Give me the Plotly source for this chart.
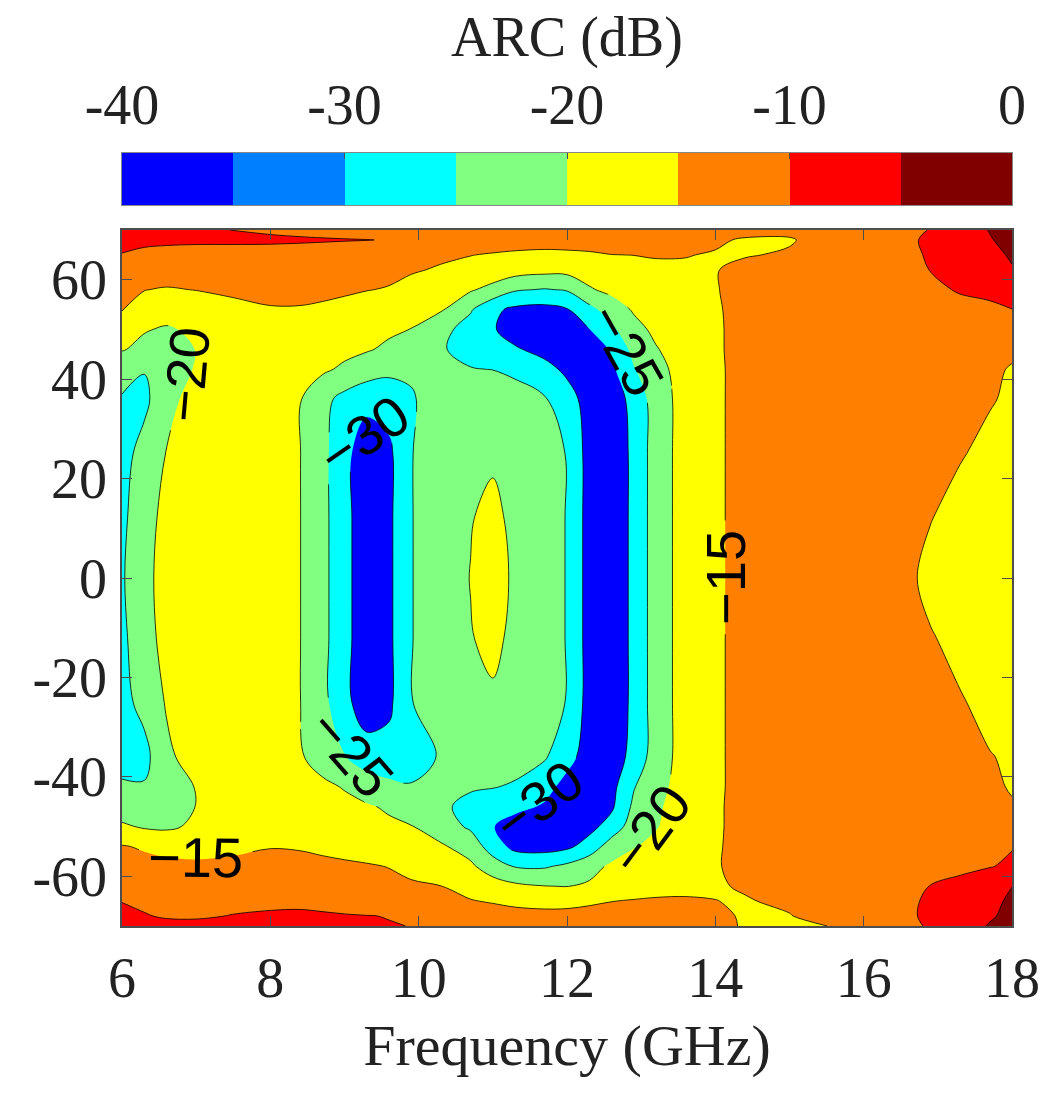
import plotly.graph_objects as go

# ---------------- data ----------------
freq_ghz = [6.0, 6.3, 6.6, 7.0, 7.5, 8.0, 8.4, 8.7, 9.0, 9.3, 9.6, 9.9, 10.3, 10.7, 11.0,
            11.3, 11.7, 12.0, 12.3, 12.6, 12.9, 13.2, 13.6, 14.0, 14.4, 15.0, 15.5, 16.0,
            16.5, 16.9, 17.3, 17.7, 18.0]
angle_deg = [-70, -68, -65, -62, -58, -54, -50, -46, -42, -36, -25, -12, 0, 12, 25, 36,
             42, 46, 50, 54, 58, 62, 65, 68, 70]

# ARC (dB), one list per angle row
arc_m70 = [-8.2, -8.8, -9.1, -9.3, -9.2, -9.1, -9.2, -9.3, -9.5, -9.7, -9.85, -10.05, -10.8, -11.6, -12.3, -12.9, -13.3, -13.5, -13.6, -13.7, -13.8, -13.9, -14.2, -14.7, -15.1, -15.5, -15.02, -13.8, -11.5, -9.5, -7.5, -4.6, -3.0]
arc_m68 = [-9.0, -9.8, -10.3, -10.3, -9.9, -9.7, -9.6, -9.7, -9.8, -9.9, -10.1, -10.8, -11.7, -12.6, -13.3, -13.8, -14.1, -14.2, -14.1, -14.0, -14.0, -14.1, -14.3, -14.6, -15.2, -15.2, -13.2, -12.3, -11.3, -9.0, -7.6, -5.6, -3.6]
arc_m65 = [-10.1, -10.6, -10.9, -11.0, -10.7, -10.5, -10.5, -10.7, -11.2, -12.0, -12.8, -13.6, -14.3, -14.8, -15.3, -15.8, -16.0, -15.8, -15.4, -15.05, -14.7, -14.5, -14.6, -14.95, -15.3, -14.2, -12.6, -12.2, -11.4, -9.2, -8.0, -6.2, -4.2]
arc_m62 = [-11.5, -11.8, -12.2, -12.3, -12.1, -11.9, -12.0, -12.4, -13.0, -13.6, -14.1, -14.5, -14.95, -16.3, -17.8, -19.0, -19.9, -20.1, -19.4, -18.3, -17.3, -16.5, -15.9, -15.4, -14.6, -13.0, -12.3, -12.0, -11.5, -9.9, -8.8, -7.0, -5.05]
arc_m58 = [-13.3, -13.6, -14.0, -14.3, -14.1, -13.8, -13.9, -14.3, -14.5, -14.7, -15.1, -16.0, -17.2, -19.2, -22.5, -25.3, -25.5, -24.0, -21.5, -19.3, -17.8, -16.8, -15.9, -15.3, -13.9, -12.5, -12.2, -12.0, -11.9, -11.6, -11.0, -10.2, -9.3]
arc_m54 = [-14.7, -15.5, -16.2, -16.3, -15.8, -15.15, -15.3, -15.6, -16.0, -16.6, -17.3, -18.1, -19.4, -22.0, -27.5, -31.5, -32.0, -31.0, -28.0, -22.5, -20.3, -18.8, -16.8, -15.4, -13.8, -12.4, -12.1, -12.0, -12.0, -12.2, -11.8, -11.0, -10.2]
arc_m50 = [-19.3, -20.5, -20.8, -19.2, -16.5, -16.2, -16.2, -16.8, -17.5, -18.3, -19.2, -19.8, -22.5, -25.8, -29.8, -32.0, -33.0, -33.0, -31.5, -28.0, -22.5, -20.3, -17.5, -15.5, -13.8, -12.4, -12.1, -12.0, -12.3, -12.8, -13.2, -13.6, -14.0]
arc_m46 = [-22.5, -23.0, -22.5, -19.9, -16.2, -16.2, -16.8, -17.8, -18.8, -19.5, -20.6, -22.3, -24.2, -26.3, -27.5, -28.8, -30.5, -33.0, -33.0, -30.8, -24.0, -20.8, -17.5, -15.5, -13.8, -12.4, -12.1, -12.1, -12.4, -12.9, -13.4, -14.0, -14.7]
arc_m42 = [-24.3, -24.6, -23.5, -19.7, -16.0, -16.5, -17.8, -19.0, -20.3, -22.3, -23.8, -24.6, -24.8, -24.5, -24.8, -25.5, -28.5, -31.5, -33.0, -31.5, -25.3, -21.5, -18.0, -15.6, -13.8, -12.5, -12.2, -12.2, -12.5, -13.0, -13.6, -14.3, -15.3]
arc_m36 = [-27.0, -26.5, -21.0, -17.8, -16.3, -17.3, -19.5, -22.0, -24.7, -27.5, -28.2, -27.5, -24.5, -23.5, -23.0, -23.2, -24.5, -28.5, -32.0, -32.5, -28.5, -22.5, -18.0, -15.6, -13.8, -12.5, -12.2, -12.3, -12.8, -13.4, -14.1, -14.9, -15.3]
arc_m25 = [-26.5, -23.5, -19.6, -16.8, -16.5, -17.5, -19.9, -23.5, -28.5, -33.0, -31.0, -25.2, -22.0, -21.0, -20.6, -21.5, -23.0, -25.2, -32.0, -33.0, -29.0, -22.5, -18.0, -15.6, -13.8, -12.5, -12.2, -12.3, -13.0, -14.0, -14.8, -15.7, -16.2]
arc_m12 = [-26.0, -22.0, -18.3, -16.5, -16.2, -17.5, -19.9, -23.5, -28.5, -33.0, -31.0, -25.2, -22.0, -20.2, -19.0, -21.0, -23.0, -25.2, -32.0, -33.0, -29.0, -22.5, -18.0, -15.6, -13.8, -12.5, -12.2, -12.5, -14.0, -14.8, -15.8, -16.3, -16.8]
arc_p00 = [-25.5, -21.5, -18.0, -16.5, -16.2, -17.5, -19.9, -23.5, -28.5, -33.0, -31.0, -25.2, -22.0, -19.9, -18.5, -20.6, -23.0, -25.2, -32.0, -33.0, -29.0, -22.5, -18.0, -15.6, -13.8, -12.5, -12.2, -12.5, -14.0, -15.8, -16.5, -16.8, -16.8]
arc_p12 = [-26.0, -22.0, -18.5, -16.5, -16.2, -17.5, -19.9, -23.5, -28.5, -33.0, -31.0, -25.2, -22.0, -20.2, -19.0, -21.0, -23.0, -25.2, -32.0, -33.0, -29.0, -22.5, -18.0, -15.6, -13.8, -12.5, -12.2, -12.5, -14.0, -14.9, -16.0, -16.5, -16.8]
arc_p25 = [-26.5, -23.5, -19.8, -16.8, -16.5, -17.5, -19.9, -23.5, -28.5, -33.0, -31.0, -25.2, -22.0, -21.0, -20.6, -21.5, -23.0, -25.2, -32.0, -33.0, -29.0, -22.5, -18.0, -15.6, -13.8, -12.5, -12.2, -12.3, -13.0, -14.0, -14.8, -15.7, -16.2]
arc_p36 = [-25.2, -26.0, -22.0, -17.5, -16.3, -17.5, -19.7, -23.5, -26.5, -28.5, -28.0, -25.4, -23.0, -22.0, -21.5, -22.0, -24.6, -28.0, -32.0, -32.5, -28.5, -22.5, -18.0, -15.6, -13.8, -12.5, -12.2, -12.2, -12.6, -13.3, -14.0, -14.8, -15.4]
arc_p42 = [-24.0, -24.8, -23.5, -19.5, -16.0, -16.5, -17.8, -19.2, -20.8, -22.5, -23.8, -24.4, -24.7, -24.8, -25.1, -26.5, -28.5, -31.0, -33.0, -31.0, -25.3, -21.5, -18.0, -15.6, -13.8, -12.5, -12.2, -12.2, -12.6, -13.2, -13.8, -14.5, -15.2]
arc_p46 = [-19.6, -21.5, -21.8, -19.9, -16.2, -16.2, -16.8, -17.8, -18.8, -19.6, -20.8, -22.5, -24.6, -26.5, -28.0, -29.5, -31.5, -33.0, -33.0, -29.5, -23.5, -20.3, -17.5, -15.5, -13.8, -12.4, -12.1, -12.1, -12.4, -12.9, -13.4, -13.9, -14.5]
arc_p50 = [-17.5, -19.6, -20.6, -19.0, -16.5, -16.2, -16.2, -16.8, -17.6, -18.5, -19.3, -20.1, -23.5, -27.0, -29.6, -32.0, -33.0, -32.5, -30.1, -26.0, -21.5, -19.0, -17.0, -15.5, -13.8, -12.4, -12.1, -12.0, -12.2, -12.6, -13.0, -13.4, -13.9]
arc_p54 = [-14.8, -16.5, -17.5, -17.3, -16.2, -15.3, -15.3, -15.6, -16.0, -16.5, -17.2, -18.0, -19.5, -24.5, -29.0, -31.0, -31.5, -30.3, -26.5, -22.5, -19.5, -18.0, -16.6, -15.4, -13.8, -12.4, -12.1, -11.9, -11.8, -11.7, -11.4, -10.8, -10.05]
arc_p58 = [-13.8, -14.9, -15.3, -14.9, -14.2, -13.8, -13.8, -14.1, -14.5, -14.9, -15.2, -16.0, -17.2, -19.5, -21.5, -24.5, -25.3, -24.6, -20.5, -18.8, -17.6, -16.6, -15.8, -15.2, -13.8, -12.5, -12.2, -12.0, -11.8, -11.0, -9.6, -9.0, -8.2]
arc_p62 = [-12.5, -12.6, -13.0, -13.0, -12.7, -12.5, -12.6, -12.9, -13.3, -13.7, -14.2, -14.7, -15.3, -16.2, -17.0, -17.8, -18.5, -18.5, -17.8, -17.0, -16.3, -15.6, -15.4, -15.2, -13.8, -12.5, -12.2, -12.0, -11.6, -9.9, -8.5, -7.2, -5.3]
arc_p65 = [-10.2, -11.0, -11.5, -11.8, -11.6, -11.5, -11.8, -12.2, -12.7, -13.2, -13.6, -14.0, -14.5, -14.9, -15.3, -15.6, -15.8, -15.7, -15.5, -15.05, -14.95, -14.8, -14.9, -15.2, -15.3, -14.5, -12.8, -12.4, -12.0, -9.3, -7.8, -6.2, -4.5]
arc_p68 = [-8.5, -9.0, -9.1, -9.2, -9.3, -9.4, -9.5, -9.6, -9.75, -9.9, -10.2, -10.8, -11.6, -12.4, -13.0, -13.4, -13.6, -13.5, -13.3, -13.2, -13.2, -13.4, -13.9, -14.6, -15.3, -15.4, -13.2, -12.3, -11.5, -9.0, -7.5, -5.3, -3.6]
arc_p70 = [-8.0, -8.6, -9.1, -9.5, -10.05, -10.5, -11.0, -11.5, -11.9, -12.2, -12.8, -13.8, -14.9, -14.9, -14.2, -13.4, -12.5, -11.5, -11.8, -12.5, -13.0, -13.2, -13.5, -13.8, -14.0, -13.9, -13.7, -14.3, -13.5, -9.6, -7.5, -4.8, -3.5]

arc_rows = [arc_m70, arc_m68, arc_m65, arc_m62, arc_m58, arc_m54, arc_m50, arc_m46, arc_m42,
            arc_m36, arc_m25, arc_m12, arc_p00, arc_p12, arc_p25, arc_p36, arc_p42, arc_p46,
            arc_p50, arc_p54, arc_p58, arc_p62, arc_p65, arc_p68, arc_p70]

contour_start, contour_end, contour_step = -30, -5, 5
fill_colors = ["#0000ff", "#00ffff", "#80ff80", "#ffff00", "#ff8000", "#ff0000", "#800000"]

cbar_edges = [-40, -35, -30, -25, -20, -15, -10, -5, 0]
cbar_colors = ["#0000ff", "#0080ff", "#00ffff", "#80ff80", "#ffff00", "#ff8000", "#ff0000", "#800000"]
cbar_ticks = [-40, -30, -20, -10, 0]
freq_ticks = [6, 8, 10, 12, 14, 16, 18]
angle_ticks = [-60, -40, -20, 0, 20, 40, 60]

# ---------------- figure ----------------
SERIF = "Liberation Serif, Times New Roman, serif"
SANS = "Liberation Sans, Arial, sans-serif"
TXT = "#222222"
AXC = "#4d4d4d"

fig = go.Figure()

nfc = len(fill_colors)
fill_scale = [[i / (nfc - 1), c] for i, c in enumerate(fill_colors)]
fig.add_trace(go.Contour(
    x=freq_ghz, y=angle_deg, z=arc_rows,
    autocontour=False,
    contours=dict(start=contour_start, end=contour_end, size=contour_step,
                  coloring="fill", showlabels=True,
                  labelfont=dict(family=SANS, size=56, color="black")),
    colorscale=fill_scale, showscale=False,
    line=dict(color="black", width=0.8),
    hoverinfo="skip", xaxis="x", yaxis="y",
))

ncb = len(cbar_colors)
cb_scale = []
for i, c in enumerate(cbar_colors):
    cb_scale.append([i / ncb, c])
    cb_scale.append([(i + 1) / ncb, c])
cb_mid = [(a + b) / 2 for a, b in zip(cbar_edges[:-1], cbar_edges[1:])]
fig.add_trace(go.Heatmap(
    x=cbar_edges, y=[0], z=[cb_mid], zmin=cbar_edges[0], zmax=cbar_edges[-1],
    colorscale=cb_scale, showscale=False, hoverinfo="skip",
    xaxis="x2", yaxis="y2",
))

H = 1098
top_m, bot_m = 20, 172
plot_h = H - top_m - bot_m
def py(v):
    return (H - bot_m - v) / plot_h

tick_font = dict(family=SERIF, size=56, color=TXT)

fig.update_layout(
    width=1048, height=H,
    margin=dict(l=122, r=36, t=top_m, b=bot_m, autoexpand=False),
    paper_bgcolor="white", plot_bgcolor="white", showlegend=False,
    xaxis=dict(domain=[0, 1], anchor="y", range=[6, 18],
               tickvals=freq_ticks, ticktext=[str(v) for v in freq_ticks],
               ticks="inside", ticklen=10, tickwidth=1.2, tickcolor=AXC,
               showline=True, linecolor=AXC, linewidth=1.5, mirror="ticks",
               showgrid=False, zeroline=False, tickfont=tick_font,
               ticklabelstandoff=2,
               title=dict(text="Frequency (GHz)", font=dict(family=SERIF, size=58, color=TXT),
                          standoff=16)),
    yaxis=dict(domain=[0, py(230)], anchor="x", range=[-70, 70],
               tickvals=angle_ticks, ticktext=[str(v) for v in angle_ticks],
               ticks="inside", ticklen=10, tickwidth=1.2, tickcolor=AXC,
               showline=True, linecolor=AXC, linewidth=1.5, mirror="ticks",
               showgrid=False, zeroline=False, tickfont=tick_font,
               ticklabelstandoff=2),
    xaxis2=dict(domain=[0, 1], anchor="y2", range=[cbar_edges[0], cbar_edges[-1]], side="top",
                tickvals=cbar_ticks, ticktext=[str(v) for v in cbar_ticks],
                ticks="inside", ticklen=6, tickcolor=AXC,
                showline=True, linecolor="#888888", linewidth=1.2, mirror=True,
                showgrid=False, zeroline=False, tickfont=tick_font, ticklabelstandoff=6),
    yaxis2=dict(domain=[py(205), py(153)], anchor="x2", range=[-0.5, 0.5],
                showticklabels=False, ticks="", showline=True, linecolor="#888888",
                linewidth=1.2, mirror=True, showgrid=False, zeroline=False),
    annotations=[dict(text="ARC (dB)", x=0.5, y=py(38), xref="paper", yref="paper",
                      xanchor="center", yanchor="middle", showarrow=False,
                      font=dict(family=SERIF, size=56, color=TXT))],
)

fig.write_html("out.html")
